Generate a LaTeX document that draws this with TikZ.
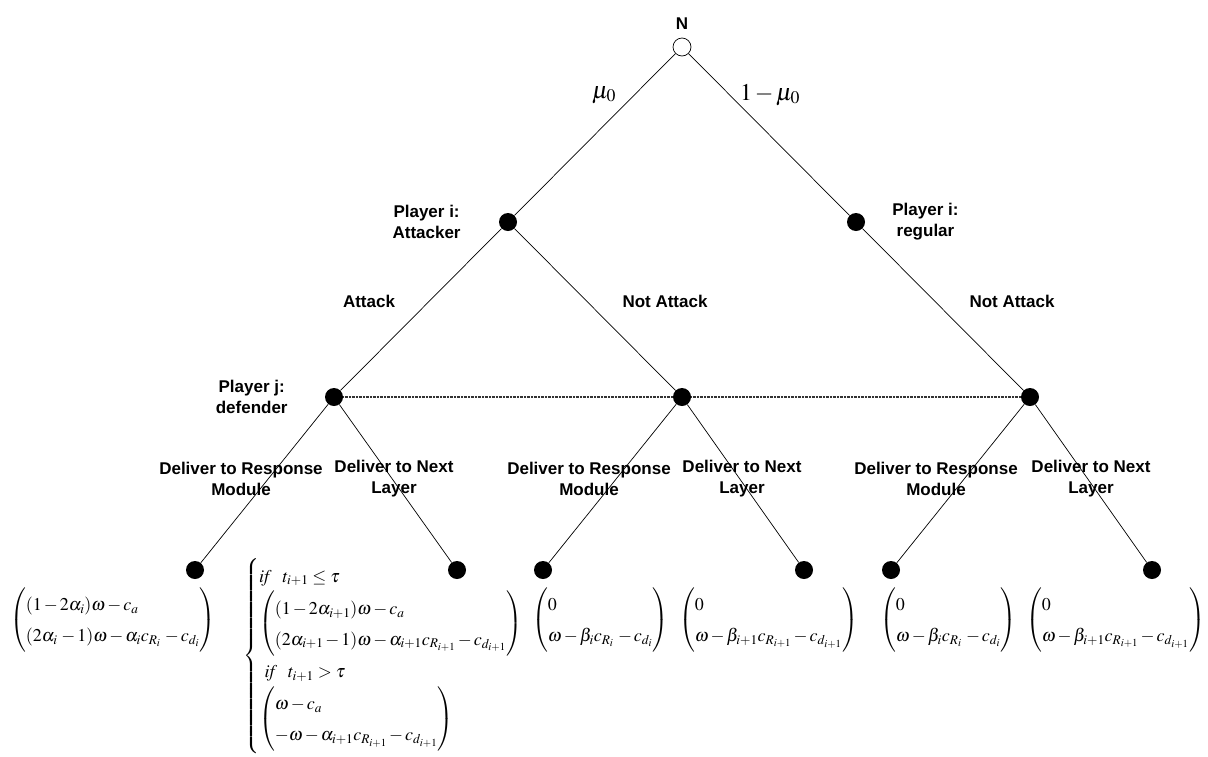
\documentclass[tikz,border=0pt]{standalone}
\usepackage{mathptmx}
\usepackage{amsmath}
\usepackage{fontspec}
\newfontfamily\lblfont{Liberation Sans}
\usetikzlibrary{positioning}
\newcommand{\payvec}[3][0pt]{\left(\begin{array}{@{}l@{\hspace{#1}}}#2\\#3\end{array}\right)}
\renewcommand{\arraystretch}{1.4}
\medmuskip=2mu plus 1mu minus 1mu

\begin{document}
\begin{tikzpicture}[x=1pt, y=-1pt,
  chance/.style={circle, draw, fill=white, minimum size=18pt, inner sep=0pt, line width=0.7pt},
  dec/.style={circle, fill=black, minimum size=18pt, inner sep=0pt},
  lbl/.style={font=\lblfont\bfseries\fontsize{17}{21}\selectfont, align=center, inner sep=0pt},
  prob/.style={font=\fontsize{24}{28}\selectfont, inner sep=0pt},
  pay/.style={font=\fontsize{18}{22}\selectfont, inner sep=0pt, anchor=west},
  branch/.style={line width=0.7pt},
  infoset/.style={line width=2.6pt, black!80, dash pattern=on 1pt off 0.4pt}
]
\useasboundingbox (0,0) rectangle (1208,756);
% tree nodes
\node[chance] (root) at (682,47) {};
\node[dec] (att) at (508,222) {};
\node[dec] (reg) at (856,222) {};
\node[dec] (def1) at (334,397) {};
\node[dec] (def2) at (682,397) {};
\node[dec] (def3) at (1030,397) {};
\node[dec] (l1) at (195,570) {};
\node[dec] (l2) at (457,570) {};
\node[dec] (l3) at (543,570) {};
\node[dec] (l4) at (804,570) {};
\node[dec] (l5) at (891,570) {};
\node[dec] (l6) at (1152,570) {};
% branches
\draw[branch] (root) -- (att);
\draw[branch] (root) -- (reg);
\draw[branch] (att) -- (def1);
\draw[branch] (att) -- (def2);
\draw[branch] (reg) -- (def3);
\draw[branch] (def1) -- (l1);
\draw[branch] (def1) -- (l2);
\draw[branch] (def2) -- (l3);
\draw[branch] (def2) -- (l4);
\draw[branch] (def3) -- (l5);
\draw[branch] (def3) -- (l6);
\draw[infoset] (def1) -- (def2);
\draw[infoset] (def2) -- (def3);
% players and moves
\node[lbl, above=8pt of root] (nlbl) {N};
\node[lbl, left=38pt of att] (attlbl) {Player i:\\Attacker};
\node[lbl, right=27pt of reg] (reglbl) {Player i:\\regular};
\node[lbl, left=37pt of def1] (deflbl) {Player j:\\defender};
\node[prob] (mu) at (604,95) {$\mu_0$};
\node[prob] (mu1) at (770,95) {$1-\mu_0$};
\node[lbl] (a1) at (369,301) {Attack};
\node[lbl] (na1) at (665,301) {Not Attack};
\node[lbl] (na2) at (1012,301) {Not Attack};
\node[lbl] (r1) at (241,479) {Deliver to Response\\Module};
\node[lbl] (n1) at (394,479) {Deliver to Next\\Layer};
\node[lbl] (r2) at (589,479) {Deliver to Response\\Module};
\node[lbl] (n2) at (742,479) {Deliver to Next\\Layer};
\node[lbl] (r3) at (936,479) {Deliver to Response\\Module};
\node[lbl] (n3) at (1091,479) {Deliver to Next\\Layer};
% payoffs
\node[pay] (p1) at (10,620) {$\payvec{(1-2\alpha_i)\omega-c_a}{(2\alpha_i\,-1)\omega-\alpha_i c_{R_i}\,-c_{d_i}}$};
\node[pay] (p2) at (243,656) {$\left\{\begin{array}{@{}l@{}}
  \mathit{if}\ \ t_{i+1}\le\tau\\
  \payvec{(1-2\alpha_{i+1})\omega-c_a}{(2\alpha_{i+1}-1)\omega-\alpha_{i+1}c_{R_{i+1}}-c_{d_{i+1}}}\\
  \ \mathit{if}\ \ t_{i+1}>\tau\\
  \payvec{\omega-c_a}{-\omega-\alpha_{i+1}c_{R_{i+1}}-c_{d_{i+1}}}
  \end{array}\right.$};
\node[pay] (p3) at (532,620) {$\payvec{0}{\omega-\beta_i c_{R_i}\,-c_{d_i}}$};
\node[pay, anchor=east] (p4) at (858,620) {$\payvec{0}{\omega-\beta_{i+1}c_{R_{i+1}}-c_{d_{i+1}}}$};
\node[pay] (p5) at (880,620) {$\payvec{0}{\omega-\beta_i c_{R_i}\,-c_{d_i}}$};
\node[pay, anchor=east] (p6) at (1205,620) {$\payvec{0}{\omega-\beta_{i+1}c_{R_{i+1}}-c_{d_{i+1}}}$};
\end{tikzpicture}
\end{document}
